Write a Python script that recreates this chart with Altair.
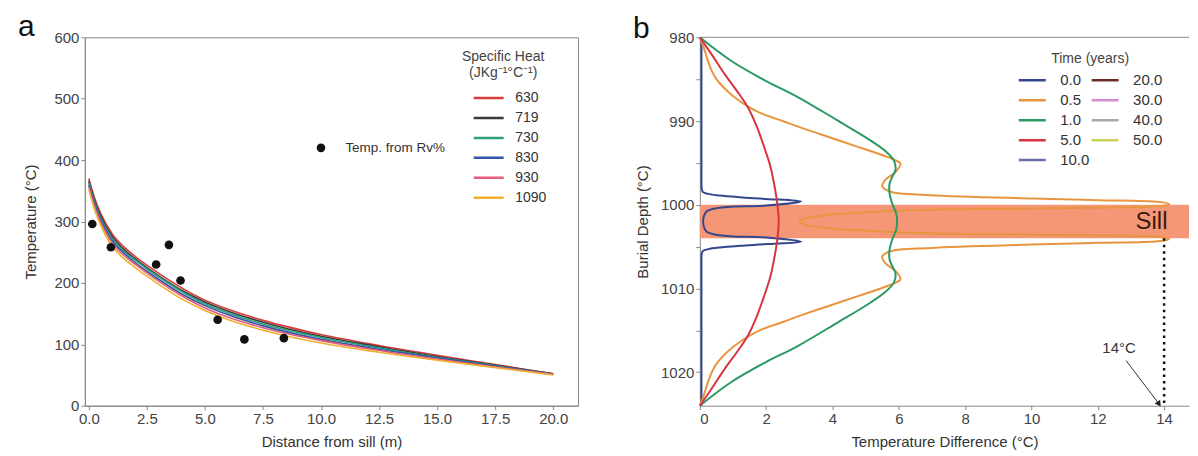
import altair as alt
import pandas as pd

FONT = "Liberation Sans"

# ---------------- Panel a data ----------------
dist = [0, 0.25, 0.5, 1, 1.5, 2, 2.5, 3, 4, 5, 6, 7.5, 10, 12.5, 15, 17.5, 20]
heat_labels = ["630", "719", "730", "830", "930", "1090"]
heat_colors = ["#d93a3a", "#3a3a3a", "#2f9e7a", "#2f57a5", "#e85d7a", "#f0b030"]
t630 = [370, 338, 314, 280, 259, 243, 229, 216, 192, 172, 157, 139, 116, 98, 82, 67, 52]
t719 = [366, 334, 310, 276, 255, 239, 225, 212, 188, 169, 154, 136, 113, 96, 80, 66, 52]
t730 = [364, 331, 307, 273, 252, 237, 223, 210, 186, 166, 151, 133, 111, 94, 79, 65, 51]
t830 = [360, 328, 304, 269, 249, 233, 219, 206, 182, 163, 148, 130, 108, 92, 78, 64, 51]
t930 = [357, 324, 300, 265, 245, 230, 216, 203, 179, 159, 144, 127, 106, 90, 76, 63, 51]
t1090 = [352, 319, 295, 260, 240, 225, 211, 198, 174, 155, 140, 123, 102, 87, 74, 62, 50]

obs_dist = [0.15, 0.95, 2.9, 3.45, 3.95, 5.55, 6.7, 8.4]
obs_temp = [296, 258, 230, 262, 204, 140, 108, 110]

key_dist = [10.0]
key_temp = [420]
key_text_dist = [11.05]
key_text = ["Temp. from Rv%"]

# ---------------- Panel b data ----------------
time_labels = ["0.0", "0.5", "1.0", "5.0", "10.0", "20.0", "30.0", "40.0", "50.0"]
time_colors = ["#34478f", "#e8953f", "#2a9a62", "#d9353f", "#6a6fa8", "#6e2e2a", "#d68bd0", "#a8a8a8", "#c9d35a"]

# upper halves (depth, value); lower halves mirror about 1002 m
d00_top = [980, 985, 990, 994, 996, 997.5, 998.2, 998.5, 998.7, 998.9, 999.1, 999.3, 999.6,
           1000.1, 1000.25, 1000.45, 1000.8, 1001.4]
v00_top = [0.05, 0.05, 0.05, 0.05, 0.05, 0.05, 0.06, 0.1, 0.25, 0.6, 1.2, 2.0, 3.05,
           2.0, 0.9, 0.45, 0.2, 0.12]
d05_top = [980, 981, 982, 983, 984, 985, 986, 987, 988, 989, 990, 991, 992, 993, 994,
           994.6, 995.1, 996.1, 997.0, 997.8, 998.45, 998.85, 999.25, 999.45, 999.65,
           999.9, 1000.15, 1000.35, 1000.6, 1000.9, 1001.2, 1001.6]
v05_top = [0, 0.1, 0.18, 0.26, 0.36, 0.5, 0.72, 1.0, 1.35, 1.8, 2.5, 3.2, 3.95, 4.7, 5.45,
           5.85, 6.05, 5.9, 5.6, 5.5, 5.75, 6.95, 10.0, 12.0, 13.8,
           14.15, 13.9, 11.5, 6.9, 5.0, 3.9, 3.2]
d10_top = [980, 982.8, 985.1, 987.1, 989.9, 992.3, 993.6, 994.7, 995.8, 996.7, 997.5, 998.6, 999.85, 1001.0]
v10_top = [0, 0.94, 1.94, 2.94, 4.14, 5.14, 5.6, 5.85, 5.9, 5.8, 5.72, 5.72, 5.8, 5.92]
d50_top = [980, 982, 984.4, 986.3, 988.3, 990.5, 993.1, 995.3, 997.5, 1000]
v50_top = [0, 0.35, 0.75, 1.1, 1.44, 1.7, 1.94, 2.12, 2.24, 2.34]
center_vals = {"0.0": 0.1, "0.5": 3.0, "1.0": 5.95, "5.0": 2.38}

sill_top = [1000]
sill_bottom = [1004]
peak_x = [14]
peak_label = ["14°C"]

# ---------------- build tables ----------------
rows_a = []
for lab, vals in zip(heat_labels, [t630, t719, t730, t830, t930, t1090]):
    for d, t in zip(dist, vals):
        rows_a.append({"dist": d, "temp": t, "heat": lab})
df_a = pd.DataFrame(rows_a)
df_obs = pd.DataFrame({"dist": obs_dist, "temp": obs_temp})
df_key = pd.DataFrame({"dist": key_dist, "temp": key_temp})
df_keyt = pd.DataFrame({"dist": key_text_dist, "temp": key_temp, "label": key_text})

rows_b = []
for lab, dd, vv in [("0.0", d00_top, v00_top), ("0.5", d05_top, v05_top),
                    ("1.0", d10_top, v10_top), ("5.0", d50_top, v50_top)]:
    for d, v in zip(dd, vv):
        rows_b.append({"depth": d, "dT": v, "time": lab})
    rows_b.append({"depth": 1002, "dT": center_vals[lab], "time": lab})
    for d, v in zip(reversed(dd), reversed(vv)):
        rows_b.append({"depth": 2004 - d, "dT": v, "time": lab})
df_b = pd.DataFrame(rows_b)

# ---------------- geometry ----------------
WA, HA = 494, 369
WB, HB = 490, 369
XB_MAX = 14.75

# ---------------- Panel a ----------------
sx_a = alt.Scale(domain=[-0.17, 21.07], nice=False, zero=False)
sy_a = alt.Scale(domain=[0, 600], nice=False)
ax_xa = alt.Axis(values=[0, 2.5, 5, 7.5, 10, 12.5, 15, 17.5, 20], format=".1f",
                 title="Distance from sill (m)", grid=False, titlePadding=8)
ax_ya = alt.Axis(values=[0, 100, 200, 300, 400, 500, 600], title="Temperature (°C)",
                 grid=False, titlePadding=15)

lines_a = alt.Chart(df_a).mark_line(strokeWidth=1.6, interpolate="monotone").encode(
    x=alt.X("dist:Q", scale=sx_a, axis=ax_xa),
    y=alt.Y("temp:Q", scale=sy_a, axis=ax_ya),
    color=alt.Color("heat:N", scale=alt.Scale(domain=heat_labels, range=heat_colors),
                    legend=alt.Legend(title=["Specific Heat", "(JKg⁻¹°C⁻¹)"], orient="none",
                                      legendX=376, legendY=13, titleAnchor="middle",
                                      titleAlign="center", titleFontSize=14,
                                      titleFontWeight="normal", titleColor="#444",
                                      titleLineHeight=16, titlePadding=8,
                                      labelFontSize=14, labelColor="#333",
                                      symbolType="stroke", symbolSize=900,
                                      symbolStrokeWidth=2.5, rowPadding=0, clipHeight=19.5,
                                      labelOffset=10, symbolOffset=12)),
    order=alt.Order("dist:Q"),
)
pts_a = alt.Chart(df_obs).mark_circle(size=75, color="#111", opacity=1).encode(
    x=alt.X("dist:Q", scale=sx_a, axis=ax_xa), y=alt.Y("temp:Q", scale=sy_a, axis=ax_ya))
key_a = alt.Chart(df_key).mark_circle(size=75, color="#111", opacity=1).encode(
    x=alt.X("dist:Q", scale=sx_a, axis=ax_xa), y=alt.Y("temp:Q", scale=sy_a, axis=ax_ya))
keyt_a = alt.Chart(df_keyt).mark_text(align="left", baseline="middle", fontSize=13.5,
                                      font=FONT, color="#333").encode(
    x=alt.X("dist:Q", scale=sx_a, axis=ax_xa), y=alt.Y("temp:Q", scale=sy_a, axis=ax_ya),
    text="label:N")
let_a = alt.Chart(pd.DataFrame({"label": ["a"]})).mark_text(
    align="left", baseline="alphabetic", fontSize=30, font=FONT, color="#111").encode(
    x=alt.value(-67), y=alt.value(-1), text="label:N")

panel_a = alt.layer(lines_a, pts_a, key_a, keyt_a, let_a).properties(
    width=WA, height=HA, view=alt.ViewBackground(stroke="#888", strokeWidth=1))

# ---------------- Panel b ----------------
sx_b = alt.Scale(domain=[0, XB_MAX], nice=False, zero=False)
sy_b = alt.Scale(domain=[980, 1024], nice=False, zero=False, reverse=True)
ax_xb = alt.Axis(values=[0, 2, 4, 6, 8, 10, 12, 14], format="d",
                 title="Temperature Difference (°C)", grid=False, titlePadding=8)
ax_yb = alt.Axis(values=[980, 985, 990, 995, 1000, 1005, 1010, 1015, 1020],
                 labelExpr="datum.value % 10 == 0 ? datum.label : ''", format="d",
                 title="Burial Depth (°C)", grid=False, titlePadding=10)

df_sill = pd.DataFrame({"x0": [0], "x1": [XB_MAX], "d0": sill_top, "d1": sill_bottom})
sill = alt.Chart(df_sill).mark_rect(color="#f4916f", opacity=0.95).encode(
    x=alt.X("x0:Q", scale=sx_b, axis=ax_xb), x2="x1:Q",
    y=alt.Y("d0:Q", scale=sy_b, axis=ax_yb), y2="d1:Q")

lines_b = alt.Chart(df_b).mark_line(strokeWidth=2, interpolate="catmull-rom").encode(
    x=alt.X("dT:Q", scale=sx_b, axis=ax_xb),
    y=alt.Y("depth:Q", scale=sy_b, axis=ax_yb),
    color=alt.Color("time:N", scale=alt.Scale(domain=time_labels, range=time_colors),
                    legend=alt.Legend(title="Time (years)", orient="none", legendX=318,
                                      legendY=15, columns=2, columnPadding=-7,
                                      titleAnchor="middle", titleAlign="center",
                                      titleFontSize=14, titleFontWeight="normal",
                                      titleColor="#444", titlePadding=4,
                                      labelFontSize=15, labelColor="#333",
                                      symbolType="stroke", symbolSize=729,
                                      symbolStrokeWidth=2.5, rowPadding=0, clipHeight=20,
                                      labelOffset=13)),
    order=alt.Order("depth:Q"),
)

df_peak = pd.DataFrame({"x": peak_x, "d0": sill_bottom, "d1": [1024]})
dotted = alt.Chart(df_peak).mark_rule(strokeDash=[2.5, 4], strokeWidth=2.5, color="#111").encode(
    x=alt.X("x:Q", scale=sx_b, axis=ax_xb), y=alt.Y("d0:Q", scale=sy_b, axis=ax_yb), y2="d1:Q")

df_arrow = pd.DataFrame({"x0": [12.85], "x1": [13.83], "d0": [1018.6], "d1": [1023.7]})
arrow = alt.Chart(df_arrow).mark_rule(strokeWidth=1, color="#333").encode(
    x=alt.X("x0:Q", scale=sx_b, axis=ax_xb), x2="x1:Q",
    y=alt.Y("d0:Q", scale=sy_b, axis=ax_yb), y2="d1:Q")
head = alt.Chart(df_arrow).mark_point(shape="triangle", filled=True, angle=146, size=45,
                                      color="#222", opacity=1).encode(
    x=alt.X("x1:Q", scale=sx_b, axis=ax_xb), y=alt.Y("d1:Q", scale=sy_b, axis=ax_yb))

df_lab = pd.DataFrame({"x": [12.64], "d": [1017.1], "label": peak_label})
lab14 = alt.Chart(df_lab).mark_text(fontSize=15, font=FONT, color="#333",
                                    align="center", baseline="middle").encode(
    x=alt.X("x:Q", scale=sx_b, axis=ax_xb), y=alt.Y("d:Q", scale=sy_b, axis=ax_yb),
    text="label:N")

df_sl = pd.DataFrame({"x": [14.1], "d": [1002.1], "label": ["Sill"]})
sill_txt = alt.Chart(df_sl).mark_text(fontSize=24, font=FONT, color="#3a1a10",
                                      align="right", baseline="middle").encode(
    x=alt.X("x:Q", scale=sx_b, axis=ax_xb), y=alt.Y("d:Q", scale=sy_b, axis=ax_yb),
    text="label:N")

top_rule = alt.Chart(pd.DataFrame({"k": [0]})).mark_rule(color="#888", strokeWidth=1).encode(
    x=alt.value(0), x2=alt.value(WB), y=alt.value(0))

let_b = alt.Chart(pd.DataFrame({"label": ["b"]})).mark_text(
    align="left", baseline="alphabetic", fontSize=30, font=FONT, color="#111").encode(
    x=alt.value(-67), y=alt.value(1), text="label:N")

panel_b = alt.layer(sill, lines_b, dotted, arrow, head, lab14, sill_txt, top_rule, let_b).properties(
    width=WB, height=HB, view=alt.ViewBackground(stroke=None))

chart = alt.hconcat(panel_a, panel_b, spacing=54).resolve_scale(color="independent").properties(
    padding={"left": 9, "top": 3, "right": 0, "bottom": 0}
).configure_axis(
    labelFont=FONT, titleFont=FONT, labelFontSize=15, titleFontSize=15,
    labelColor="#444", titleColor="#333", tickColor="#888", domainColor="#888",
    tickSize=4, labelPadding=2, titleFontWeight="normal"
).configure_legend(labelFont=FONT, titleFont=FONT).configure_view(stroke=None)

chart.save("out.html", embed_options={"renderer": "svg", "actions": False})
